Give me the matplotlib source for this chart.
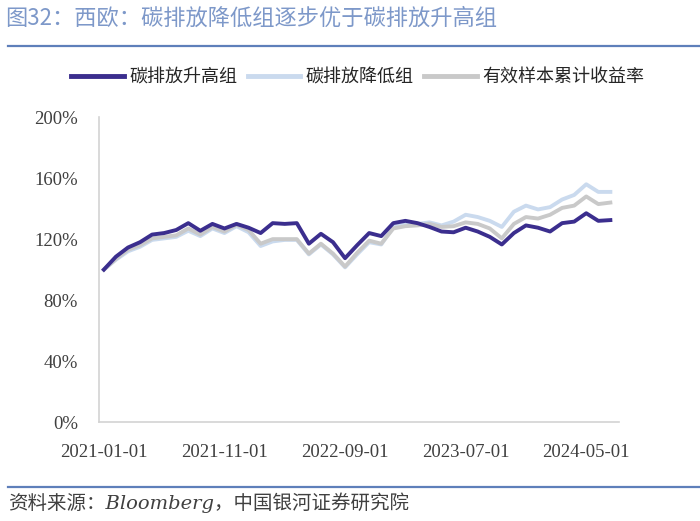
import numpy as np
import pandas as pd
import matplotlib
matplotlib.use("Agg")
from matplotlib import pyplot as plt

plt.rcParams['font.family'] = ['Liberation Serif', 'Noto Sans CJK SC', 'DejaVu Sans']

# monthly, 2021-01 .. 2024-07
dates = pd.date_range('2021-01-01', periods=43, freq='MS').strftime('%Y-%m-%d').tolist()

high_group = [100, 108.5, 114.5, 118, 123, 124, 126, 130.5, 125.5, 130, 127,
              130, 127.5, 124, 130.5, 130, 130.5, 117, 123.5, 118, 107.5,
              116, 124, 122, 130.5, 132, 130.5, 128, 125, 124.5, 127.5,
              125, 121.5, 116.5, 124, 129, 127.5, 125, 130.5, 131.5, 137,
              132, 132.5]
low_group = [100, 106.5, 112, 115, 119.5, 120.5, 121.5, 125.5, 122, 127, 124,
             128.5, 124.5, 115.5, 118.5, 119.5, 119.5, 110, 116.5, 110, 101.5,
             110, 118, 116.5, 128, 129.5, 130, 131, 129, 131.5, 136,
             134.5, 132, 128, 138, 142, 139.5, 141, 146, 149, 156,
             151, 151]
all_sample = [100, 107, 113, 116, 120.5, 121.5, 122.5, 127, 123, 128, 125,
              129.5, 126, 117, 120, 120, 120, 110.5, 117, 110.5, 102,
              111, 119, 117, 127, 128.5, 129, 130, 128, 128.5, 131,
              130, 127, 120.5, 130, 134.5, 133.5, 136, 140.5, 142, 148,
              143, 144]

series_names = ['碳排放升高组', '碳排放降低组', '有效样本累计收益率']
colors = ['#3B2E8E', '#CADAEE', '#C9C9C9']

fig = plt.figure(figsize=(7, 5.21), dpi=100)
ax = fig.add_axes([0.142, 0.19, 0.742, 0.585])

x = np.arange(len(dates))
# draw order: gray under light blue under purple
ax.plot(x, low_group, color=colors[1], lw=2.8, label=series_names[1], zorder=2)
ax.plot(x, all_sample, color=colors[2], lw=2.8, label=series_names[2], zorder=3)
ax.plot(x, high_group, color=colors[0], lw=2.8, label=series_names[0], zorder=4)

ax.set_ylim(0, 200)
ax.set_yticks(np.arange(0, 201, 40))
ax.set_yticklabels([f'{v}%' for v in range(0, 201, 40)])
ax.set_xlim(-0.37, 42.7)
ax.set_xticks(x[::10])
ax.set_xticklabels(dates[::10])
ax.tick_params(length=0, labelsize=13.5, labelcolor='#404040')
ax.tick_params(axis='x', pad=16)
ax.tick_params(axis='y', pad=15.5)
for s in ['top', 'right']:
    ax.spines[s].set_visible(False)
for s in ['left', 'bottom']:
    ax.spines[s].set_color('#D3D3D3')
    ax.spines[s].set_linewidth(1.2)

h, l = ax.get_legend_handles_labels()
order = [2, 0, 1]
fig.legend([h[i] for i in order], [l[i] for i in order], loc='center',
           bbox_to_anchor=(0.511, 0.852), ncol=3, frameon=False,
           prop={'family': ['Noto Sans CJK SC'], 'size': 13},
           handlelength=2.9, handletextpad=0.3, columnspacing=0.6,
           labelcolor='#262626')
for lh in fig.legends[0].get_lines():
    lh.set_linewidth(3.5)

fig.text(0.007, 0.965, '图32：西欧：碳排放降低组逐步优于碳排放升高组',
         family=['Noto Sans CJK SC'], fontsize=16, color='#7D98C9',
         va='center', ha='left')
fig.add_artist(plt.Line2D([0.011, 1.0], [0.912, 0.912], color='#5E7FBA', lw=1.6))
fig.add_artist(plt.Line2D([0.011, 1.0], [0.065, 0.065], color='#5E7FBA', lw=1.6))
fig.text(0.011, 0.036, '资料来源：Bloomberg，中国银河证券研究院',
         family=['DejaVu Serif', 'Noto Sans CJK SC'], style='italic',
         fontsize=14, color='#404040', va='center', ha='left')

fig.savefig('out.png', dpi=100)
